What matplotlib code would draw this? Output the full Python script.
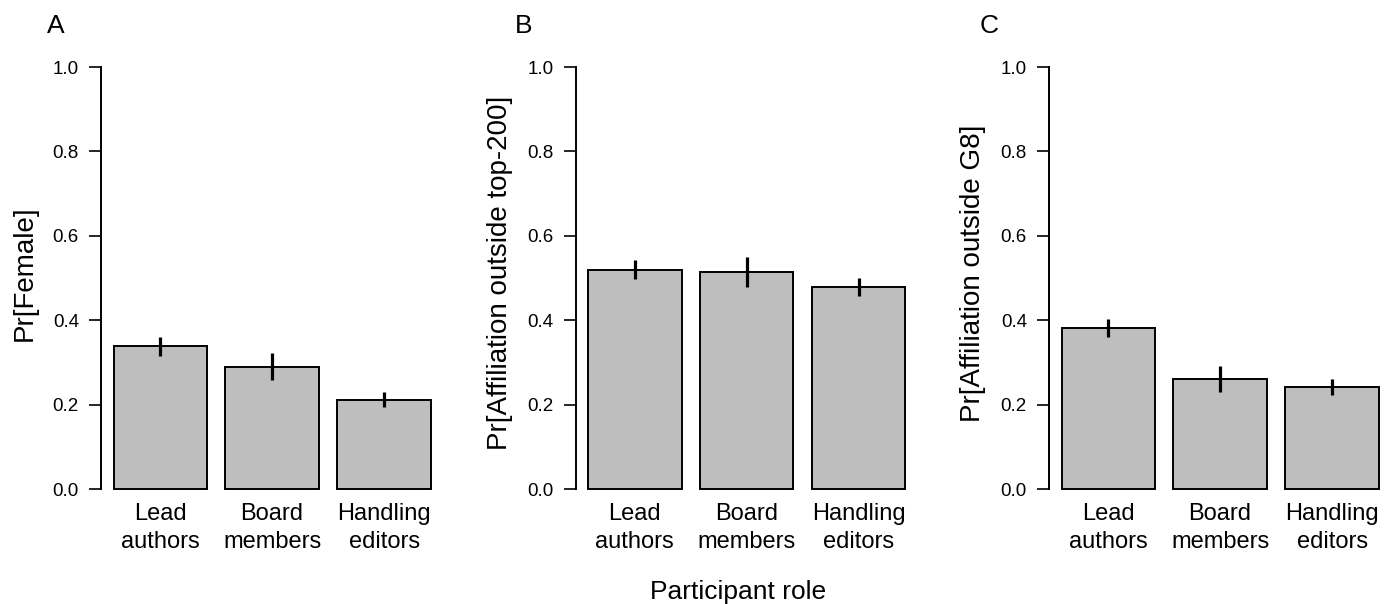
import matplotlib
matplotlib.use("Agg")
import matplotlib.pyplot as plt
import matplotlib.transforms as mtransforms

plt.rcParams['font.family'] = ['Liberation Sans', 'DejaVu Sans']

# ---- data ----
roles = ["Lead\nauthors", "Board\nmembers", "Handling\neditors"]

female = [0.338, 0.289, 0.211]
female_lo = [0.316, 0.258, 0.194]
female_hi = [0.361, 0.322, 0.230]

top200 = [0.519, 0.514, 0.479]
top200_lo = [0.498, 0.479, 0.457]
top200_hi = [0.542, 0.549, 0.500]

g8 = [0.382, 0.260, 0.242]
g8_lo = [0.360, 0.230, 0.223]
g8_hi = [0.403, 0.292, 0.260]

ylabels = ["Pr[Female]", "Pr[Affiliation outside top-200]", "Pr[Affiliation outside G8]"]
panel_letters = ["A", "B", "C"]
yticks = [0.0, 0.2, 0.4, 0.6, 0.8, 1.0]
xlabel = "Participant role"

panels = [
    (female, female_lo, female_hi),
    (top200, top200_lo, top200_hi),
    (g8, g8_lo, g8_hi),
]

# ---- layout (pixels) ----
W, H = 1395, 604
DPI = 100
fig = plt.figure(figsize=(W / DPI, H / DPI), dpi=DPI)

px_per_unit_y = 422.0       # 0 -> 1 spans 422 px
y0_px = 489.0               # pixel row of y=0
ylim = (-0.04, 1.04)
ax_top_px = y0_px - ylim[1] * px_per_unit_y
ax_bot_px = y0_px - ylim[0] * px_per_unit_y

px_per_unit_x = 93.3
xlim = (0.066, 3.70)
ax_w_px = (xlim[1] - xlim[0]) * px_per_unit_x
lefts_px = [101.0, 575.7, 1049.0]
letter_x_px = [55.5, 524.0, 989.0]

bar_pos = [0.7, 1.9, 3.1]
bar_w = 1.0
gray = "#bebebe"

for i, (vals, lo, hi) in enumerate(panels):
    ax = fig.add_axes([lefts_px[i] / W, (H - ax_bot_px) / H,
                       ax_w_px / W, (ax_bot_px - ax_top_px) / H])
    ax.bar(bar_pos, vals, width=bar_w, color=gray, edgecolor="black",
           linewidth=1.4, zorder=2)
    ax.vlines(bar_pos, lo, hi, colors="black", linewidth=2.3, zorder=3)
    ax.set_xlim(*xlim)
    ax.set_ylim(*ylim)
    for s in ["top", "right", "bottom"]:
        ax.spines[s].set_visible(False)
    ax.spines["left"].set_bounds(0, 1)
    ax.spines["left"].set_linewidth(1.4)
    ax.set_yticks(yticks)
    ax.set_yticklabels([f"{t:.1f}" for t in yticks])
    ax.tick_params(axis="y", length=8.4, width=1.2, pad=7.5, labelsize=13.5)
    ax.set_xticks([])
    trans = mtransforms.blended_transform_factory(ax.transData, ax.transData)
    for x, lab in zip(bar_pos, roles):
        ax.text(x, -0.033, lab, transform=trans, ha="center", va="top",
                fontsize=17, linespacing=1.35)
    fig.text((lefts_px[i] - 76) / W, (H - 273) / H, ylabels[i], rotation=90,
             ha="center", va="center", fontsize=20)
    fig.text(letter_x_px[i] / W, (H - 33) / H, panel_letters[i],
             ha="center", va="baseline", fontsize=19)

fig.text(738 / W, (H - 599) / H, xlabel, ha="center", va="baseline", fontsize=19)

fig.savefig("out.png", dpi=DPI)
